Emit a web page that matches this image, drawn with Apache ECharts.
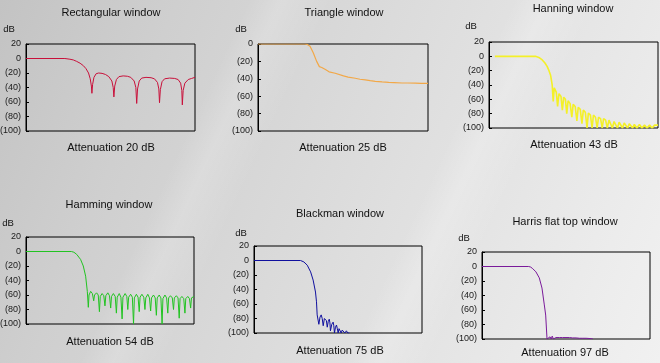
<!DOCTYPE html>
<html>
<head>
<meta charset="utf-8">
<script src="https://cdn.jsdelivr.net/npm/echarts@6/dist/echarts.min.js"></script>
<style>
html,body{margin:0;padding:0;width:660px;height:363px;overflow:hidden;}
body{background:
 linear-gradient(115deg, rgba(255,255,255,0) 0%, rgba(255,255,255,0) 30%, rgba(255,255,255,0.18) 34%, rgba(255,255,255,0) 40%, rgba(255,255,255,0) 62%, rgba(255,255,255,0.22) 66%, rgba(255,255,255,0) 72%, rgba(255,255,255,0) 100%),
 linear-gradient(112deg, #c3c3c3 0%, #cfcfcf 22%, #d9d9d9 45%, #e3e3e3 68%, #ececec 88%, #f1f1f1 100%);}
#c{width:660px;height:363px;}
</style>
</head>
<body>
<div id="c"></div>
<script>
// ---- data ----
const panelTitles = ['Rectangular window','Triangle window','Hanning window','Hamming window','Blackman window','Harris flat top window'];
const attenuationLabels = ['Attenuation 20 dB','Attenuation 25 dB','Attenuation 43 dB','Attenuation 54 dB','Attenuation 75 dB','Attenuation 97 dB'];
const yUnit = 'dB';
const yTickValues = [20, 0, -20, -40, -60, -80, -100];
const yTickLabels = ['20', '0', '(20)', '(40)', '(60)', '(80)', '(100)'];
const yMaxByPanel = [20, 0, 20, 20, 20, 20];

const rectangular = [[0,0],[23,0],[26,-1],[28,-2],[30,-4],[32,-6.5],[34,-10],[35.5,-14],[37,-20],[38,-28],[38.7,-38],[39,-48],[39.4,-36],[40.2,-26],[41.5,-21],[43,-20],[45,-20.5],[47,-22],[49,-25],[50.8,-31],[51.6,-40],[52,-53],[52.5,-38],[53.5,-29],[55,-25],[57.5,-24],[60,-24.5],[62,-26],[64,-31],[65,-40],[65.5,-62],[66,-42],[67,-31],[68.5,-27],[71,-26],[74,-26.5],[76,-28],[77.8,-33],[78.6,-42],[79,-61],[79.5,-43],[80.5,-32],[82,-28],[85,-27],[88,-27.5],[90,-29],[91.5,-34],[92.2,-44],[92.5,-64],[93,-44],[94,-34],[96,-29],[98,-27.5],[100,-26]];

const triangle = [[0,0],[27.6,0],[29,-0.5],[30.6,-2.7],[32.5,-10],[34.5,-20],[36.1,-26],[37.5,-27],[39.4,-29],[41.8,-32],[45.4,-33.6],[50.3,-36.7],[53,-38],[57.2,-39.4],[60,-40.5],[63.1,-41.3],[66,-42.2],[69,-42.9],[73,-43.5],[76.9,-44],[80,-44.3],[84.8,-44.8],[88,-44.8],[92.7,-45],[96,-45.2],[100,-45.2]];

const hanning = [[3.5,0],[27.5,0],[29.5,-1.5],[31.5,-5],[33,-9],[34.4,-14],[35.5,-20],[36.4,-26],[37.4,-40],[38,-63],[38.6,-44],[39.8,-50],[40.6,-70],[41.4,-52],[42.6,-56],[43.4,-75],[44.2,-57],[45.2,-60],[46,-80],[46.8,-62],[48,-66],[49,-85],[49.8,-67],[51,-70],[52,-90],[52.8,-71],[54,-74],[55,-94],[55.8,-75],[57,-78],[58,-100],[58.8,-79],[60,-82],[61,-100],[61.8,-82],[63,-85],[64,-100],[64.8,-85],[66,-87],[67,-100],[67.8,-87],[69,-89],[70,-100],[71,-89],[72,-91],[73,-100],[74,-91],[75,-92],[76,-100],[77,-92],[78,-93],[79,-100],[80,-93],[81,-94],[82,-100],[83,-94],[84,-95],[85,-100],[86,-95],[87.5,-100],[89,-95],[90.5,-100],[92,-96],[93.5,-100],[95,-96],[96.5,-100],[98,-96],[100,-96]];

const hamming = [[0,0],[27,0],[28.5,-1],[30.2,-4],[32.5,-11],[34.1,-20],[35.5,-34],[36.5,-55],[37.1,-77],[37.5,-60],[38.5,-55],[39.5,-58],[40.3,-68],[40.8,-60],[42,-57],[43,-60],[43.7,-83],[44.2,-62],[45.3,-58],[46.3,-61],[47,-75],[47.5,-61],[48.7,-57],[49.7,-61],[50.4,-78],[50.9,-62],[52,-58],[53.1,-62],[53.8,-85],[54.3,-63],[55.5,-58],[56.5,-63],[57.2,-93],[57.7,-63],[59,-58],[60,-62],[60.6,-80],[61.1,-63],[62.3,-59],[63.3,-63],[64,-100],[64.5,-64],[65.7,-59],[66.7,-63],[67.4,-83],[67.9,-63],[69,-59],[70.1,-63],[70.8,-80],[71.3,-64],[72.5,-59],[73.5,-64],[74.2,-82],[74.7,-64],[75.9,-60],[76.9,-64],[77.6,-88],[78.1,-64],[79.3,-60],[80.3,-64],[81,-100],[81.5,-65],[82.7,-60],[83.7,-64],[84.4,-85],[84.9,-64],[86,-61],[87.1,-64],[87.8,-80],[88.3,-64],[89.5,-61],[90.5,-64],[91.2,-92],[91.7,-65],[92.8,-62],[93.9,-65],[94.6,-85],[95.1,-65],[96.3,-62],[97.3,-65],[98,-78],[98.5,-64],[100,-62]];

const blackman = [[0,0],[27.7,0],[28.7,-0.5],[29.7,-2],[31.7,-6.5],[33.7,-15.7],[35.2,-27],[36.6,-43.5],[37.2,-57],[37.6,-75],[38.6,-88],[39.3,-78],[40,-75],[40.6,-80],[41.2,-90],[41.9,-80],[42.6,-78],[43.1,-83],[43.6,-92],[44.2,-84],[44.8,-81],[45.2,-86],[45.5,-97],[46.3,-88],[47.1,-85],[47.5,-90],[47.9,-100],[48.5,-92],[49.1,-89],[49.6,-94],[50.1,-100],[50.6,-94],[51.1,-92],[51.5,-96],[51.9,-100],[52.5,-96],[53.1,-94],[53.6,-97],[54.1,-100],[54.5,-98],[55,-97],[55.4,-99],[55.8,-100],[56.3,-99],[56.8,-100]];

const harris = [[0,0],[27.8,0],[29,-0.8],[30.2,-3],[32.1,-7.4],[34.1,-15.7],[35.7,-29.7],[37.1,-53],[37.9,-67],[38.7,-100],[39.5,-100],[40.5,-97],[41.2,-100],[41.8,-96],[42.5,-100],[44,-98],[45,-100],[46,-98],[47,-100],[48,-98],[49,-100],[50,-98],[51,-100],[52,-98],[53,-100],[54,-98.5],[55,-100],[56,-98.5],[57,-100],[58,-99],[59,-100],[60,-99],[61,-100],[62,-99],[63,-100],[65,-99.5],[66,-100]];

const seriesData = [rectangular, triangle, hanning, hamming, blackman, harris];

// ---- layout / style ----
const colors = ['#c8103a', '#f2a848', '#f4f028', '#22c322', '#10109e', '#7a1a9a'];
const lineWidths = [1, 1.2, 1.6, 1, 1, 1];
const grids = [
  {left: 26, top: 44, width: 169, height: 87},
  {left: 258, top: 44, width: 170, height: 87},
  {left: 489, top: 42, width: 169, height: 86},
  {left: 26, top: 237, width: 168, height: 87},
  {left: 254, top: 246, width: 168, height: 87},
  {left: 482, top: 252, width: 168, height: 87}
];
const titlePos = [[111,13],[344,13],[573,9],[109,205],[340,214],[565,222]];
const dbPos = [[9,29],[241,29],[471,26],[8,223],[241,233],[464,238]];
const attPos = [[111,148],[343,148],[574,145],[110,342],[340,351],[565,353]];

const FONT = '"Liberation Sans", Arial, sans-serif';
const chart = echarts.init(document.getElementById('c'), null, {renderer: 'canvas'});

const option = {
  backgroundColor: 'transparent',
  animation: false,
  grid: grids.map(g => Object.assign({show: true, borderColor: '#000', borderWidth: 1, backgroundColor: 'transparent',
    containLabel: false, outerBoundsMode: 'none'}, g)),
  xAxis: grids.map((g, i) => ({type: 'value', gridIndex: i, min: 0, max: 100, show: false})),
  yAxis: grids.map((g, i) => ({
    type: 'value', gridIndex: i, min: -100, max: yMaxByPanel[i], interval: 20,
    splitLine: {show: false},
    axisLine: {show: true, lineStyle: {color: '#000', width: 1}},
    axisTick: {show: true, inside: true, length: 3, lineStyle: {color: '#000'}},
    axisLabel: {
      margin: 5, fontSize: 9, color: '#1a1a1a', fontFamily: FONT,
      formatter: v => { const k = yTickValues.indexOf(v); return k >= 0 ? yTickLabels[k] : ''; }
    }
  })),
  series: seriesData.map((d, i) => ({
    type: 'line', xAxisIndex: i, yAxisIndex: i, data: d, showSymbol: false, symbol: 'none',
    clip: true, lineStyle: {color: colors[i], width: lineWidths[i]}
  })),
  graphic: [].concat(
    panelTitles.map((t, i) => ({type: 'text', x: titlePos[i][0], y: titlePos[i][1],
      style: {text: t, fill: '#111', font: '11px ' + FONT, textAlign: 'center', textVerticalAlign: 'middle'}})),
    panelTitles.map((t, i) => ({type: 'text', x: dbPos[i][0], y: dbPos[i][1],
      style: {text: yUnit, fill: '#111', font: '9.5px ' + FONT, textAlign: 'center', textVerticalAlign: 'middle'}})),
    attenuationLabels.map((t, i) => ({type: 'text', x: attPos[i][0], y: attPos[i][1],
      style: {text: t, fill: '#111', font: '11px ' + FONT, textAlign: 'center', textVerticalAlign: 'middle'}}))
  )
};
chart.setOption(option);
</script>
</body>
</html>
